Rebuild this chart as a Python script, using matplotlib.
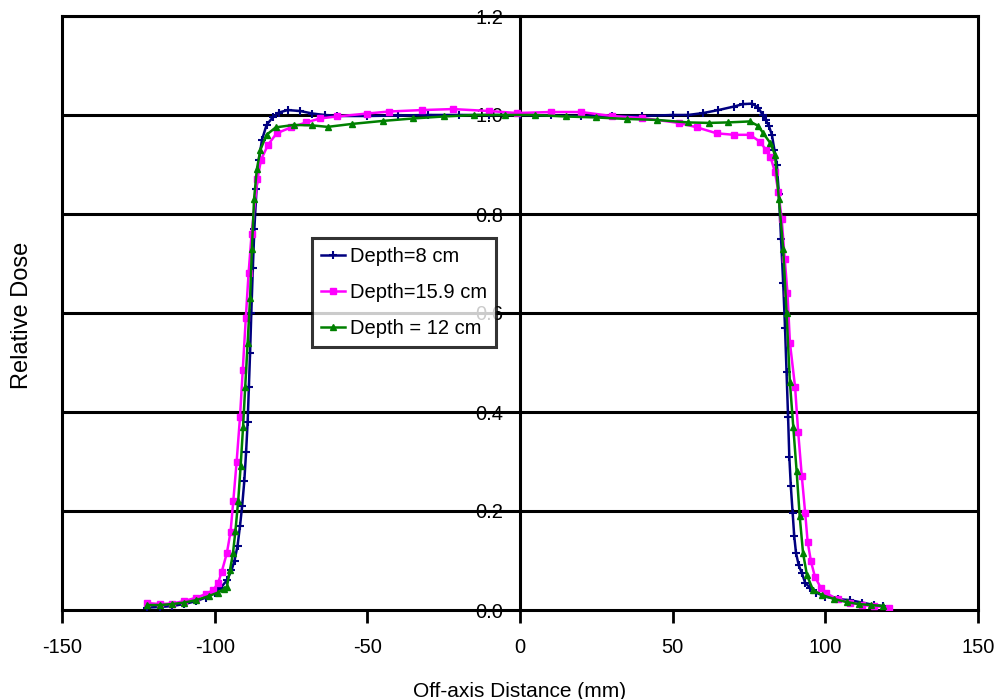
import matplotlib
matplotlib.use("Agg")
import matplotlib.pyplot as plt

plt.rcParams['font.family'] = ['Liberation Sans', 'DejaVu Sans']

# Depth = 8 cm
x_d8 = [-122, -118, -114, -110, -106, -103, -100, -98, -96, -94.5, -93.5, -92.5,
        -91.7, -91, -90.3, -89.7, -89.2, -88.8, -88.4, -88, -87.5, -87, -86.3,
        -85.5, -84.5, -83, -81, -79, -76, -72, -68, -64, -60, -50, -40, -30, -20,
        -10, 0, 10, 20, 30, 40, 50, 55, 60, 65, 70, 73, 76, 78, 79.5, 80.5, 81.5,
        82.5, 83.3, 84.1, 84.8, 85.5, 86.2, 86.8, 87.3, 87.8, 88.2, 88.7, 89.3,
        89.8, 90.4, 91.3, 92.3, 93.4, 95, 97, 100, 104, 108, 112, 116, 119]
y_d8 = [0.005, 0.006, 0.008, 0.012, 0.018, 0.025, 0.035, 0.045, 0.06, 0.08, 0.10,
        0.13, 0.17, 0.21, 0.26, 0.32, 0.38, 0.45, 0.52, 0.60, 0.69, 0.77, 0.85,
        0.91, 0.95, 0.98, 0.995, 1.005, 1.01, 1.008, 1.003, 1.0, 0.998, 0.998,
        0.999, 1.0, 1.0, 1.0, 1.0, 0.999, 0.998, 0.998, 0.998, 1.0, 1.0, 1.004,
        1.01, 1.017, 1.022, 1.023, 1.015, 1.0, 0.99, 0.978, 0.96, 0.93, 0.90,
        0.84, 0.75, 0.66, 0.57, 0.48, 0.39, 0.31, 0.25, 0.196, 0.15, 0.115, 0.09,
        0.075, 0.055, 0.045, 0.035, 0.027, 0.022, 0.02, 0.015, 0.01, 0.008]

# Depth = 15.9 cm
x_d159 = [-122, -118, -114, -110, -106, -103, -100.5, -98.9, -97.7, -96, -94.8,
          -93.9, -92.8, -91.7, -90.8, -89.8, -88.9, -87.9, -86, -84.8, -82.5,
          -79.7, -75, -70, -65.5, -60, -50, -43, -32, -22, -10, -1, 10, 20, 30,
          40, 52, 58, 64.4, 70, 75.3, 78.6, 80.5, 82, 83.5, 84.6, 85.7, 86.7,
          87.6, 88.4, 90.1, 91.1, 92.3, 93.4, 94.2, 95.3, 96.6, 98.5, 100.2, 104,
          108, 112, 116, 121]
y_d159 = [0.014, 0.012, 0.013, 0.018, 0.025, 0.032, 0.04, 0.054, 0.077, 0.115,
          0.158, 0.22, 0.30, 0.39, 0.485, 0.59, 0.68, 0.76, 0.87, 0.91, 0.94,
          0.963, 0.975, 0.985, 0.993, 0.997, 1.003, 1.007, 1.01, 1.012, 1.008,
          1.004, 1.006, 1.006, 0.998, 0.994, 0.984, 0.975, 0.963, 0.96, 0.96,
          0.946, 0.93, 0.916, 0.885, 0.845, 0.79, 0.71, 0.64, 0.54, 0.45, 0.36,
          0.27, 0.196, 0.138, 0.098, 0.067, 0.045, 0.034, 0.022, 0.015, 0.01,
          0.008, 0.005]

# Depth = 12 cm
x_d12 = [-122, -118, -114, -110, -106, -102, -99, -97, -96, -95, -94, -93.2,
         -92.3, -91.5, -90.7, -90, -89.2, -88.4, -87.8, -87.1, -86.2, -85, -83,
         -80, -74, -68, -63, -55, -45, -35, -25, -15, -5, 5, 15, 25, 35, 45, 55,
         62, 68, 75.3, 78, 79.7, 82, 83.5, 84.8, 86.2, 87.3, 88.4, 89.5, 90.6,
         91.6, 92.7, 94, 96, 99, 103, 107, 111, 115, 119]
y_d12 = [0.01, 0.01, 0.012, 0.015, 0.02, 0.028, 0.035, 0.042, 0.047, 0.08, 0.115,
         0.16, 0.22, 0.29, 0.37, 0.45, 0.54, 0.63, 0.73, 0.83, 0.89, 0.93, 0.96,
         0.975, 0.98, 0.979, 0.976, 0.982, 0.988, 0.993, 0.997, 1.0, 1.0, 1.0,
         0.997, 0.995, 0.992, 0.99, 0.985, 0.984, 0.985, 0.987, 0.978, 0.963,
         0.943, 0.92, 0.83, 0.73, 0.6, 0.46, 0.37, 0.28, 0.19, 0.115, 0.07, 0.04,
         0.03, 0.022, 0.016, 0.012, 0.01, 0.008]

x_ticks = [-150, -100, -50, 0, 50, 100, 150]
y_ticks = [0.0, 0.2, 0.4, 0.6, 0.8, 1.0, 1.2]

fig = plt.figure(figsize=(9.94, 6.99), dpi=100)
ax = fig.add_axes([62 / 994, 89 / 699, 916 / 994, 594 / 699])

ax.plot(x_d8, y_d8, color='#000080', lw=1.8, marker='+', ms=6, mew=1.5,
        label='Depth=8 cm', zorder=3)
ax.plot(x_d159, y_d159, color='#FF00FF', lw=1.8, marker='s', ms=4,
        label='Depth=15.9 cm', zorder=3)
ax.plot(x_d12, y_d12, color='#008000', lw=1.8, marker='^', ms=5,
        label='Depth = 12 cm', zorder=3)

ax.set_xlim(-150, 150)
ax.set_ylim(0, 1.2)
ax.set_xticks(x_ticks)
ax.set_xticklabels([str(v) for v in x_ticks])
ax.set_yticks(y_ticks)
ax.set_yticklabels(['%.1f' % v for v in y_ticks])

# horizontal grid
for v in y_ticks[1:]:
    ax.axhline(v, color='black', lw=2.2, zorder=1)

# y axis sits at x = 0, frame kept around the plot
ax.spines['left'].set_position(('data', 0))
for s in ['left', 'right', 'top', 'bottom']:
    ax.spines[s].set_linewidth(2.2)
ax.axvline(-150, color='black', lw=2.2, clip_on=False)

ax.tick_params(axis='x', direction='out', length=9, width=2, pad=11, labelsize=14.5)
ax.tick_params(axis='y', length=0, pad=12, labelsize=14.5)

ax.set_xlabel('Off-axis Distance (mm)', fontsize=15, labelpad=18)
fig.text(22 / 994, 1 - 315 / 699, 'Relative Dose', rotation=90, ha='center',
         va='center', fontsize=17)

leg = ax.legend(loc='upper left', bbox_to_anchor=(312 / 994, 1 - 238 / 699),
                bbox_transform=fig.transFigure, fontsize=14.5, frameon=True,
                fancybox=False, edgecolor='black', handlelength=1.2,
                handletextpad=0.25, labelspacing=0.85, borderpad=0.45,
                borderaxespad=0)
leg.get_frame().set_linewidth(2.2)
leg.set_zorder(6)

fig.savefig('out.png', dpi=100)
